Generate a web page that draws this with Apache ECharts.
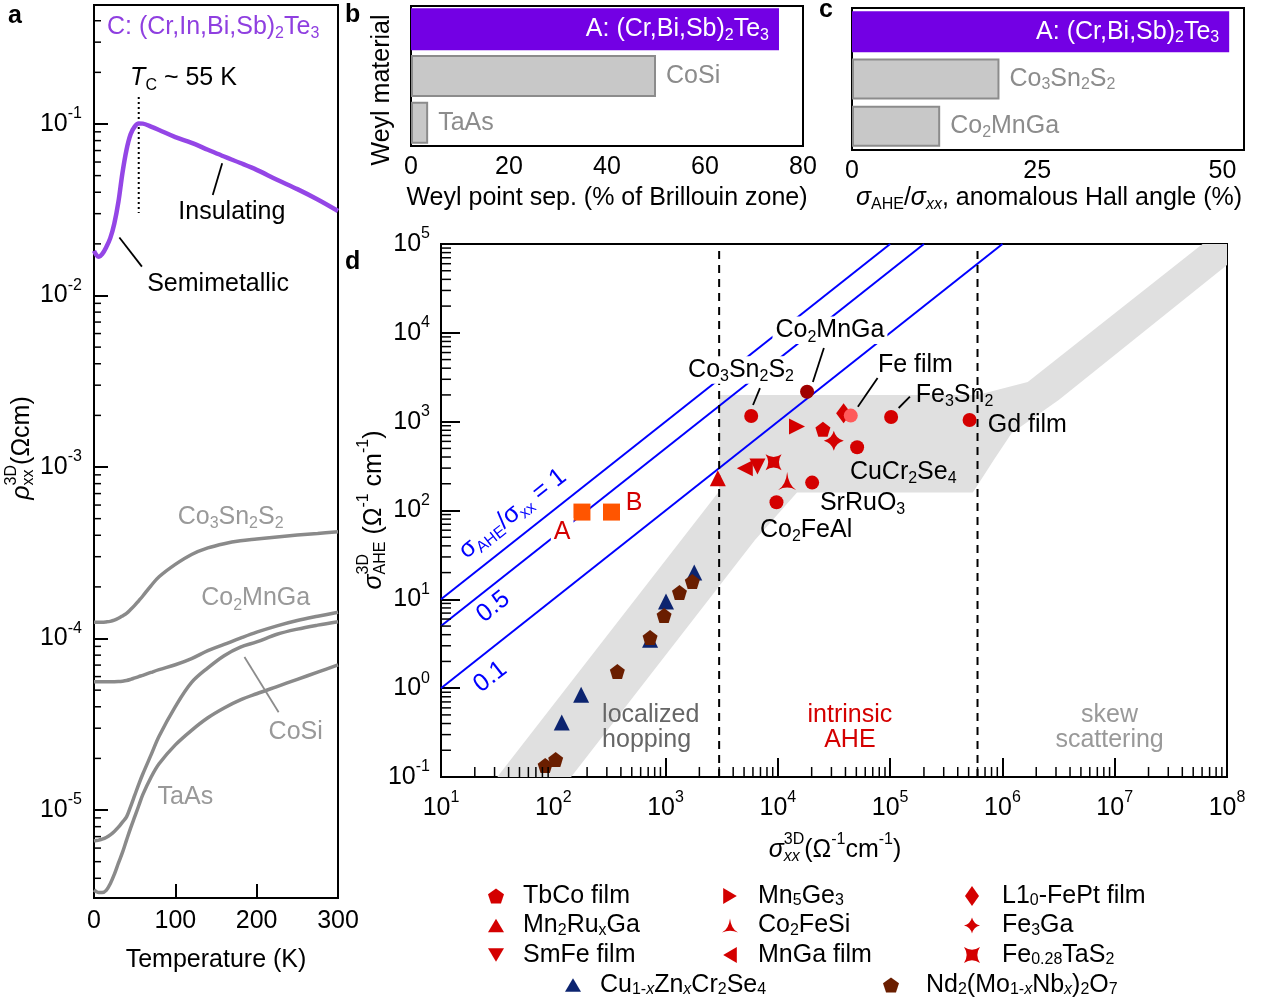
<!DOCTYPE html>
<html><head><meta charset="utf-8">
<script src="https://cdn.jsdelivr.net/npm/echarts@6/dist/echarts.min.js"></script>
<style>html,body{margin:0;padding:0;background:#fff}#c{width:1279px;height:1003px}</style>
</head><body><div id="c"></div>
<script>
// ---------------- DATA ----------------
// panel a: resistivity vs temperature
const tempK = [0,3,6,10,15,20,25,30,35,40,45,50,55,60,70,80,100,120,140,160,180,200,225,250,275,300];
const rhoCIBST = [0.0182,0.0172,0.0168,0.0174,0.0191,0.0216,0.0263,0.0351,0.0519,0.0708,0.0871,0.0966,0.1007,0.1005,0.0966,0.0923,0.0839,0.0776,0.0708,0.0646,0.0592,0.0540,0.0473,0.0417,0.0363,0.0311];
const rhoCo3Sn2S2 = [1.245e-4,1.245e-4,1.245e-4,1.245e-4,1.250e-4,1.259e-4,1.279e-4,1.312e-4,1.355e-4,1.403e-4,1.475e-4,1.560e-4,1.660e-4,1.770e-4,2.030e-4,2.290e-4,2.704e-4,3.090e-4,3.373e-4,3.573e-4,3.715e-4,3.802e-4,3.908e-4,4.009e-4,4.102e-4,4.198e-4];
const rhoCo2MnGa = [5.60e-5,5.60e-5,5.60e-5,5.60e-5,5.60e-5,5.60e-5,5.60e-5,5.61e-5,5.64e-5,5.69e-5,5.78e-5,5.89e-5,6.00e-5,6.10e-5,6.34e-5,6.58e-5,7.03e-5,7.64e-5,8.49e-5,9.23e-5,1.005e-4,1.089e-4,1.186e-4,1.274e-4,1.349e-4,1.422e-4];
const rhoCoSi = [6.61e-6,6.64e-6,6.68e-6,6.76e-6,6.92e-6,7.16e-6,7.50e-6,7.94e-6,8.51e-6,9.12e-6,1.047e-5,1.216e-5,1.413e-5,1.622e-5,2.089e-5,2.692e-5,4.009e-5,5.546e-5,6.745e-5,7.943e-5,8.913e-5,9.55e-5,1.059e-4,1.135e-4,1.197e-4,1.253e-4];
const rhoTaAs = [3.42e-6,3.34e-6,3.30e-6,3.30e-6,3.40e-6,3.72e-6,4.22e-6,4.90e-6,5.66e-6,6.68e-6,7.85e-6,9.12e-6,1.059e-5,1.230e-5,1.549e-5,1.862e-5,2.399e-5,2.917e-5,3.451e-5,3.936e-5,4.385e-5,4.764e-5,5.248e-5,5.781e-5,6.368e-5,7.015e-5];
const tcK = 55;

// panel b: Weyl point separation
const weylMaterials = ['A: (Cr,Bi,Sb)2Te3','CoSi','TaAs'];
const weylSep = [75.1, 50.0, 3.5];
// panel c: anomalous Hall angle
const hallMaterials = ['A: (Cr,Bi,Sb)2Te3','Co3Sn2S2','Co2MnGa'];
const hallAngle = [50.9, 19.9, 11.9];

// panel d: sigma_AHE vs sigma_xx
const thisWorkNames = ['A','B'];
const thisWorkSxx = [180, 330];
const thisWorkSahe = [96, 96];
const labeledNames = ['Co3Sn2S2','Co2MnGa','Fe film','Fe3Sn2','Gd film','CuCr2Se4','SrRuO3','Co2FeAl'];
const labeledSxx = [5790, 18200, 44600, 1.02e5, 5.1e5, 5.08e4, 2.02e4, 9720];
const labeledSahe = [1160, 2170, 1170, 1130, 1045, 515, 206, 124];
const tbcoFilm = [[2.52e4, 822]];
const mn2RuxGa = [[2920, 231]];
const smFeFilm = [[6580, 312]];
const mn5Ge3 = [[1.48e4, 880]];
const co2FeSi = [[1.21e4, 215]];
const mnGaFilm = [[5080, 299]];
const l10FePt = [[3.85e4, 1240]];
const fe3Ga = [[3.15e4, 611]];
const fe028TaS2 = [[9160, 349]];
const cuZnCrSe = [[119,0.411],[177,0.843],[728,3.5],[1009,9.44],[1800,20]];
const ndMoNbO = [[84.7,0.135],[105,0.157],[372,1.54],[728,3.72],[970,6.58],[1330,11.9],[1730,15.9]];
const hallRatios = [1, 0.5, 0.1];
const regimeBounds = [3000, 6.0e5];
const bandSxx = [31.7, 3000, 3000, 6.0e5, 1.68e6, 6.05e7, 1e8, 1e8, 3.17e6, 1.21e6, 8.37e5, 5.45e5, 1.48e4, 6250, 144];
const bandSahe = [0.1, 165, 2000, 2000, 2800, 1e5, 1e5, 5.8e4, 1750, 747, 371, 159, 159, 46.7, 0.1];

// ---------------- helpers ----------------
const FF = '"Liberation Sans", Arial, Helvetica, sans-serif';
const mctx = document.createElement('canvas').getContext('2d');
function tw(t, size, it, bold) { mctx.font = (it ? 'italic ' : '') + (bold ? 'bold ' : '') + size + 'px ' + FF; return mctx.measureText(t).width; }
function parseMarkup(str) {
  const out = []; let i = 0, italic = false, buf = '';
  const flush = () => { if (buf) { out.push({k:'n', t:buf, it:italic}); buf = ''; } };
  const part = p => ({t: p.replace(/\*/g, ''), it: italic || p.indexOf('*') >= 0});
  while (i < str.length) {
    const c = str[i];
    if ((c === '_' || c === '^' || c === '&') && str[i+1] === '{') {
      flush();
      const j = str.indexOf('}', i);
      const inner = str.slice(i + 2, j);
      if (c === '&') { const ab = inner.split('|'); out.push({k:'stack', sup:part(ab[0]), sub:part(ab[1])}); }
      else out.push({k: c === '_' ? 'sub' : 'sup', t: inner.replace(/\*/g,''), it: italic || inner.indexOf('*') >= 0});
      i = j + 1;
    } else if (c === '*') { flush(); italic = !italic; i++; }
    else { buf += c; i++; }
  }
  flush();
  return out;
}
function richKids(str, o) {
  const size = o.size || 25, ss = Math.round(size * 0.64);
  const color = o.color || '#000';
  const kids = []; let x = 0;
  const add = (t, sz, it, dy) => {
    kids.push({type:'text', x:x, y:dy, silent:true, style:{text:t, fill:color, fontSize:sz, fontFamily:FF,
      fontStyle: it ? 'italic' : 'normal', fontWeight: o.bold ? 'bold' : 'normal', verticalAlign:'middle', align:'left'}});
    return tw(t, sz, it, o.bold);
  };
  parseMarkup(str).forEach(k => {
    if (k.k === 'n') x += add(k.t, size, k.it, 0);
    else if (k.k === 'sub') x += add(k.t, ss, k.it, size * 0.28);
    else if (k.k === 'sup') x += add(k.t, ss, k.it, -size * 0.4);
    else { const w1 = add(k.sup.t, ss, k.sup.it, -size * 0.4); const w2 = add(k.sub.t, ss, k.sub.it, size * 0.28); x += Math.max(w1, w2); }
  });
  const W = x, off = o.align === 'center' ? -W / 2 : (o.align === 'right' ? -W : 0);
  kids.forEach(c => { c.x += off; });
  if (o.bg) kids.unshift({type:'rect', silent:true, shape:{x:off - 3, y:-size * 0.55, width:W + 6, height:size * 1.1}, style:{fill:o.bg}});
  return kids;
}
function gtext(str, x, y, o) { return {type:'group', x:x, y:y, rotation:o.rot || 0, silent:true, children:richKids(str, o)}; }
function annoSeries(gi, items) {
  return {type:'custom', xAxisIndex:gi, yAxisIndex:gi, z:20, silent:true, clip:false,
    data: items.map(a => a.at),
    renderItem: (params, api) => {
      const a = items[params.dataIndex];
      const p = api.coord([api.value(0), api.value(1)]);
      return {type:'group', x:p[0], y:p[1], rotation:a.rot || 0, children:richKids(a.text, a)};
    }};
}
function segSeries(gi, segs, color, width) {
  return {type:'custom', xAxisIndex:gi, yAxisIndex:gi, z:15, silent:true, clip:false,
    data: segs,
    renderItem: (params, api) => {
      const p1 = api.coord([api.value(0), api.value(1)]), p2 = api.coord([api.value(2), api.value(3)]);
      return {type:'line', shape:{x1:p1[0], y1:p1[1], x2:p2[0], y2:p2[1]}, style:{stroke:color, lineWidth:width}};
    }};
}
function minorTickSeries(gi, dir, values, other, len) {
  return {type:'custom', xAxisIndex:gi, yAxisIndex:gi, z:16, silent:true, clip:false,
    data: values.map(v => dir === 'x' ? [v, other] : [other, v]),
    renderItem: (params, api) => {
      const p = api.coord([api.value(0), api.value(1)]);
      const sh = dir === 'x' ? {x1:p[0], y1:p[1], x2:p[0], y2:p[1] - len} : {x1:p[0], y1:p[1], x2:p[0] + len, y2:p[1]};
      return {type:'line', shape:sh, style:{stroke:'#000', lineWidth:1.5}};
    }};
}
function logMinors(n0, n1, lo, hi) {
  const out = [];
  for (let n = n0; n <= n1; n++) for (let m = 2; m <= 9; m++) { const v = m * Math.pow(10, n); if (v > lo && v < hi) out.push(v); }
  return out;
}
const powFmt = v => { const l = Math.log10(v); const e = Math.round(l); if (Math.abs(l - e) > 1e-6) return ''; return '10{s|' + e + '}'; };
const supRich = {s:{fontSize:16, lineHeight:16, verticalAlign:'top', fontFamily:FF, color:'#000'}};
const subRich = {s:{fontSize:16, lineHeight:12, verticalAlign:'bottom', fontFamily:FF}, si:{fontSize:16, lineHeight:12, verticalAlign:'bottom', fontFamily:FF, fontStyle:'italic'}};

// ---------------- styles ----------------
const PURPLE_LINE = '#9446e6', PURPLE_BAR = '#7300e4', GRAY_LINE = '#8a8a8a', GRAY_TXT = '#8c8c8c';
const RED = '#d40000', BLUE = '#0000ff';
const A_MIN = 3.07e-6, A_MAX = 0.494;

const gridBase = {show:true, borderColor:'#000', borderWidth:2, backgroundColor:'rgba(0,0,0,0)', containLabel:false, outerBoundsMode:'none'};
const lblBase = {color:'#000', fontSize:25, fontFamily:FF};

// ---------------- series ----------------
const series = [];
// panel a curves
const aCurves = [[rhoCIBST, PURPLE_LINE, 4.5], [rhoCo3Sn2S2, GRAY_LINE, 3.5], [rhoCo2MnGa, GRAY_LINE, 3.5], [rhoCoSi, GRAY_LINE, 3.5], [rhoTaAs, GRAY_LINE, 3.5]];
aCurves.forEach(c => series.push({type:'line', xAxisIndex:0, yAxisIndex:0, smooth:0.35, showSymbol:false, silent:true, z:5,
  data: tempK.map((t, i) => [t, c[0][i]]), lineStyle:{color:c[1], width:c[2]}}));
series.push({type:'line', xAxisIndex:0, yAxisIndex:0, showSymbol:false, silent:true, z:4,
  data:[[tcK, 0.1435], [tcK, 0.0303]], lineStyle:{color:'#000', width:2, type:[2,3]}});
series.push(segSeries(0, [[146, 0.0386, 157.6, 0.0591], [58.9, 0.01473, 31.2, 0.0218]], '#000', 1.8));
series.push(segSeries(0, [[227, 3.72e-5, 185, 7.8e-5]], GRAY_TXT, 1.8));
series.push(annoSeries(0, [
  {text:'C: (Cr,In,Bi,Sb)_{2}Te_{3}', at:[16, 0.368], align:'left', color:'#8f3fe0'},
  {text:'*T*_{C} ~ 55 K', at:[44.4, 0.185], align:'left'},
  {text:'Insulating', at:[103.7, 0.0307], align:'left'},
  {text:'Semimetallic', at:[65.4, 0.01167], align:'left'},
  {text:'Co_{3}Sn_{2}S_{2}', at:[168, 5.11e-4], align:'center', color:'#999'},
  {text:'Co_{2}MnGa', at:[198.8, 1.72e-4], align:'center', color:'#999'},
  {text:'CoSi', at:[248, 2.85e-5], align:'center', color:'#999'},
  {text:'TaAs', at:[112.3, 1.19e-5], align:'center', color:'#999'}
]));
series.push(minorTickSeries(0, 'y', logMinors(-6, -1, A_MIN, A_MAX), 0, 7));

// panel b & c bars
function barItems(vals) {
  return vals.map((v, i) => i === 0 ? {
    value:v, itemStyle:{color:PURPLE_BAR},
    label:{show:true, position:'insideRight', distance:10, color:'#fff', fontSize:25, fontFamily:FF, lineHeight:28,
      formatter:'A: (Cr,Bi,Sb){s|2}Te{s|3}', rich:{s:{fontSize:16, lineHeight:12, verticalAlign:'bottom', fontFamily:FF, color:'#fff'}}}
  } : {
    value:v, itemStyle:{color:'#c8c8c8', borderColor:'#8c8c8c', borderWidth:2},
    label:{show:true, position:'right', distance:10, color:GRAY_TXT, fontSize:25, fontFamily:FF, lineHeight:28}
  });
}
series.push({type:'bar', xAxisIndex:1, yAxisIndex:1, barWidth:42, silent:true, data:barItems(weylSep),
  label:{formatter:(p) => p.name}});
series.push({type:'bar', xAxisIndex:2, yAxisIndex:2, barWidth:41, silent:true,
  data:barItems(hallAngle).map((d, i) => { if (i > 0) d.label.formatter = ['', 'Co{s|3}Sn{s|2}S{s|2}', 'Co{s|2}MnGa'][i]; if (i > 0) d.label.rich = {s:{fontSize:16, lineHeight:12, verticalAlign:'bottom', fontFamily:FF, color:GRAY_TXT}}; return d; })});

// panel d
series.push({type:'custom', xAxisIndex:3, yAxisIndex:3, z:1, silent:true, clip:true, data:[[bandSxx[0], bandSahe[0]]],
  renderItem: (params, api) => ({type:'polygon', shape:{points: bandSxx.map((x, i) => api.coord([x, bandSahe[i]]))}, style:{fill:'#e0e0e0'}})});
hallRatios.forEach(r => series.push({type:'line', xAxisIndex:3, yAxisIndex:3, showSymbol:false, silent:true, z:3,
  data:[[10, 10 * r], [1e5 / r, 1e5]], lineStyle:{color:BLUE, width:2}}));
regimeBounds.forEach(b => series.push({type:'line', xAxisIndex:3, yAxisIndex:3, showSymbol:false, silent:true, z:4,
  data:[[b, 0.1], [b, 1e5]], lineStyle:{color:'#000', width:2, type:[8,6]}}));

const SYM = {
  pent:'path://M0,-10L9.51,-3.09L5.88,8.09L-5.88,8.09L-9.51,-3.09Z',
  up:'path://M0,-10L10,7L-10,7Z',
  down:'path://M0,10L-10,-7L10,-7Z',
  right:'path://M10,0L-7,-10L-7,10Z',
  left:'path://M-10,0L7,-10L7,10Z',
  tri:'path://M0,-10Q1.2,1.5 9,6Q0,1.6 -9,6Q-1.2,1.5 0,-10Z',
  diamond:'path://M0,-10L7,0L0,10L-7,0Z',
  star4:'path://M0,-10Q2,-2 10,0Q2,2 0,10Q-2,2 -10,0Q-2,-2 0,-10Z',
  cq:'path://M-9,-9Q0,-3 9,-9Q3,0 9,9Q0,3 -9,9Q-3,0 -9,-9Z'
};
const legendSeries = [
  ['TbCo', tbcoFilm, SYM.pent, 15, RED],
  ['Mn2RuxGa', mn2RuxGa, SYM.up, 16, RED],
  ['SmFe', smFeFilm, SYM.down, 16, RED],
  ['Mn5Ge3', mn5Ge3, SYM.right, 16, RED],
  ['Co2FeSi', co2FeSi, SYM.tri, 18, RED],
  ['MnGa', mnGaFilm, SYM.left, 16, RED],
  ['FePt', l10FePt, SYM.diamond, [15, 20], RED],
  ['Fe3Ga', fe3Ga, SYM.star4, 20, RED],
  ['FeTaS2', fe028TaS2, SYM.cq, 16, RED],
  ['CuZn', cuZnCrSe, SYM.up, 16, '#0c2470'],
  ['NdMo', ndMoNbO, SYM.pent, 15, '#6a1e00']
];
legendSeries.forEach(s => series.push({type:'scatter', name:s[0], xAxisIndex:3, yAxisIndex:3, z:8, silent:true,
  data:s[1], symbol:s[2], symbolSize:s[3], itemStyle:{color:s[4], opacity:1}}));
const labeledColor = {'Co2MnGa':'#a00000', 'Fe film':'#ff5a5a'};
series.push({type:'scatter', xAxisIndex:3, yAxisIndex:3, z:9, silent:true, symbol:'circle', symbolSize:14,
  data: labeledNames.map((n, i) => ({value:[labeledSxx[i], labeledSahe[i]], itemStyle:{color:labeledColor[n] || RED, opacity:1}}))});
series.push({type:'scatter', xAxisIndex:3, yAxisIndex:3, z:9, silent:true, symbol:'rect', symbolSize:17,
  data: thisWorkNames.map((n, i) => [thisWorkSxx[i], thisWorkSahe[i]]), itemStyle:{color:'#ff5500', opacity:1}});
series.push(segSeries(3, [[2.57e4, 6750, 2.05e4, 2800], [6930, 2390, 6010, 1540], [7.73e4, 3100, 5.16e4, 1475], [1.5e5, 1910, 1.19e5, 1425]], '#000', 1.8));
const ROT = Math.atan(88.9 / 112.4);
series.push(annoSeries(3, [
  {text:'Co_{2}MnGa', at:[2.91e4, 1.07e4], align:'center', bg:'#fff'},
  {text:'Co_{3}Sn_{2}S_{2}', at:[4700, 3820], align:'center', bg:'#fff'},
  {text:'Fe film', at:[7.78e4, 4340], align:'left'},
  {text:'Fe_{3}Sn_{2}', at:[1.69e5, 2000], align:'left'},
  {text:'Gd film', at:[7.4e5, 919], align:'left'},
  {text:'CuCr_{2}Se_{4}', at:[4.38e4, 272], align:'left'},
  {text:'SrRuO_{3}', at:[2.37e4, 122], align:'left'},
  {text:'Co_{2}FeAl', at:[6930, 60.5], align:'left'},
  {text:'A', at:[120, 57.4], align:'center', color:RED, bg:'#fff'},
  {text:'B', at:[525, 122], align:'center', color:RED},
  {text:'localized', at:[272, 0.502], align:'left', color:'#666'},
  {text:'hopping', at:[272, 0.263], align:'left', color:'#666'},
  {text:'intrinsic', at:[4.38e4, 0.502], align:'center', color:RED},
  {text:'AHE', at:[4.38e4, 0.263], align:'center', color:RED},
  {text:'skew', at:[9.0e6, 0.502], align:'center', color:'#999'},
  {text:'scattering', at:[9.0e6, 0.263], align:'center', color:'#999'},
  {text:'σ_{AHE}/σ_{xx} = 1', at:[43.5, 91.6], align:'center', color:BLUE, rot:ROT},
  {text:'0.5', at:[29.2, 8.24], align:'center', color:BLUE, rot:ROT},
  {text:'0.1', at:[27.5, 1.34], align:'center', color:BLUE, rot:ROT}
]));
series.push(minorTickSeries(3, 'x', logMinors(1, 7, 10, 1e8), 0.1, 10));
series.push(minorTickSeries(3, 'y', logMinors(-1, 4, 0.1, 1e5), 10, 10));

// ---------------- legend ----------------
const legendLabels = {
  TbCo:'TbCo film', Mn2RuxGa:'Mn{s|2}Ru{s|x}Ga', SmFe:'SmFe film',
  Mn5Ge3:'Mn{s|5}Ge{s|3}', Co2FeSi:'Co{s|2}FeSi', MnGa:'MnGa film',
  FePt:'L1{s|0}-FePt film', Fe3Ga:'Fe{s|3}Ga', FeTaS2:'Fe{s|0.28}TaS{s|2}',
  CuZn:'Cu{s|1-}{si|x}Zn{si|x}Cr{s|2}Se{s|4}', NdMo:'Nd{s|2}(Mo{s|1-}{si|x}Nb{si|x}){s|2}O{s|7}'
};
function mkLegend(left, top, data, pad, ih) {
  return {orient:'vertical', left:left, top:top, data:data, itemWidth:16, itemHeight:ih || 16, itemGap:3.5, padding:0, selectedMode:false,
    formatter: n => legendLabels[n],
    textStyle:{fontSize:25, fontFamily:FF, color:'#000', lineHeight:26, padding:[0, 0, 0, pad], rich:subRich}};
}
const legends = [
  mkLegend(488, 883, ['TbCo','Mn2RuxGa','SmFe'], 14),
  mkLegend(722, 883, ['Mn5Ge3','Co2FeSi','MnGa'], 15),
  mkLegend(964, 883, ['FePt','Fe3Ga','FeTaS2'], 17, 20),
  mkLegend(565, 972, ['CuZn'], 14),
  mkLegend(883, 972, ['NdMo'], 22)
];

// ---------------- titles (graphic) ----------------
const graphic = [
  gtext('a', 8, 16, {bold:true, align:'left'}),
  gtext('b', 345, 15, {bold:true, align:'left'}),
  gtext('c', 819, 10, {bold:true, align:'left'}),
  gtext('d', 345, 262, {bold:true, align:'left'}),
  gtext('Temperature (K)', 216, 960, {align:'center'}),
  gtext('*ρ*&{3D|xx}(Ωcm)', 22, 448, {align:'center', rot:Math.PI / 2}),
  gtext('Weyl material', 382, 90, {align:'center', rot:Math.PI / 2}),
  gtext('Weyl point sep. (% of Brillouin zone)', 607, 198, {align:'center'}),
  gtext('*σ*_{AHE}/*σ_{xx}*, anomalous Hall angle (%)', 1049, 198, {align:'center'}),
  gtext('*σ*&{3D|AHE} (Ω^{-1} cm^{-1})', 374, 510, {align:'center', rot:Math.PI / 2}),
  gtext('*σ*&{3D|*xx*}(Ω^{-1}cm^{-1})', 835, 850, {align:'center'})
];

// ---------------- axes ----------------
const noSplit = {show:false};
const xAxis = [
  {type:'value', gridIndex:0, min:0, max:300, interval:100, splitLine:noSplit, axisLine:{show:false},
    axisTick:{inside:true, length:14, lineStyle:{color:'#000', width:2}}, axisLabel:Object.assign({margin:11}, lblBase)},
  {type:'value', gridIndex:1, min:0, max:80, interval:20, splitLine:noSplit, axisLine:{show:false},
    axisTick:{inside:true, length:12, lineStyle:{color:'#000', width:2}}, axisLabel:Object.assign({margin:9}, lblBase)},
  {type:'value', gridIndex:2, min:0, max:52.9, interval:25, splitLine:noSplit, axisLine:{show:false},
    axisTick:{inside:true, length:12, lineStyle:{color:'#000', width:2}},
    axisLabel:Object.assign({margin:9, formatter: v => (Math.abs(v % 25) < 1e-9 ? String(v) : '')}, lblBase)},
  {type:'log', logBase:10, gridIndex:3, min:10, max:1e8, splitLine:noSplit, axisLine:{show:false},
    axisTick:{inside:true, length:19, lineStyle:{color:'#000', width:2}},
    axisLabel:Object.assign({margin:13, lineHeight:36, formatter:powFmt, rich:supRich}, lblBase)}
];
const yAxis = [
  {type:'log', logBase:10, gridIndex:0, min:A_MIN, max:A_MAX, splitLine:noSplit, axisLine:{show:false},
    axisTick:{inside:true, length:14, lineStyle:{color:'#000', width:2}},
    axisLabel:Object.assign({margin:12, lineHeight:36, formatter:powFmt, rich:supRich}, lblBase)},
  {type:'category', gridIndex:1, inverse:true, data:weylMaterials, axisLine:{show:false}, axisTick:{show:false}, axisLabel:{show:false}, splitLine:noSplit},
  {type:'category', gridIndex:2, inverse:true, data:hallMaterials, axisLine:{show:false}, axisTick:{show:false}, axisLabel:{show:false}, splitLine:noSplit},
  {type:'log', logBase:10, gridIndex:3, min:0.1, max:1e5, splitLine:noSplit, axisLine:{show:false},
    axisTick:{inside:true, length:19, lineStyle:{color:'#000', width:2}},
    axisLabel:Object.assign({margin:11, lineHeight:36, formatter:powFmt, rich:supRich}, lblBase)}
];

const option = {
  animation:false, backgroundColor:'#fff',
  textStyle:{fontFamily:FF},
  grid:[
    Object.assign({left:94, top:5, width:244, height:893}, gridBase),
    Object.assign({left:411, top:6, width:392, height:140}, gridBase),
    Object.assign({left:852, top:8, width:392, height:142}, gridBase),
    Object.assign({left:441, top:244, width:786, height:533}, gridBase)
  ],
  xAxis:xAxis, yAxis:yAxis, legend:legends, graphic:graphic, series:series
};
const chart = echarts.init(document.getElementById('c'), null, {renderer:'canvas'});
chart.setOption(option);
</script>
</body></html>
